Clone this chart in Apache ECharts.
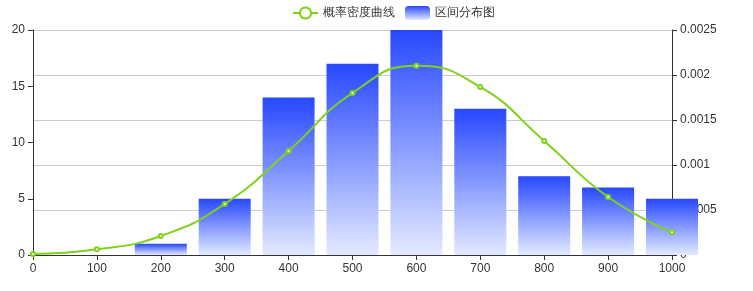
<!DOCTYPE html>
<html>
<head>
<meta charset="utf-8">
<script src="https://cdn.jsdelivr.net/npm/echarts@6/dist/echarts.min.js"></script>
<style>html,body{margin:0;padding:0;background:#fff}#c{width:753px;height:291px}</style>
</head>
<body>
<div id="c"></div>
<script>
const categories = ['0','100','200','300','400','500','600','700','800','900','1000'];
const barValues = [null, null, 1, 5, 14, 17, 20, 13, 7, 6, 5];
const densityValues = [0.00001, 0.000063, 0.000211, 0.000567, 0.001156, 0.0018, 0.002103, 0.001867, 0.001267, 0.000644, 0.000252];
const leftTicks = [0, 20, 5];
const rightTicks = [0, 0.0025, 0.0005];

const chart = echarts.init(document.getElementById('c'));
const axisLine = { show: true, lineStyle: { color: '#333' } };
chart.setOption({
  animation: false,
  legend: {
    top: 1,
    left: 287,
    itemGap: 10,
    textStyle: { color: '#333', fontSize: 12 },
    data: ['概率密度曲线', '区间分布图']
  },
  grid: { left: 33, right: 81, top: 30, bottom: 36 },
  xAxis: {
    type: 'category',
    data: categories,
    boundaryGap: false,
    axisLine: axisLine,
    axisTick: { show: true, alignWithLabel: true },
    axisLabel: { color: '#333', fontSize: 12 }
  },
  yAxis: [
    {
      type: 'value', min: leftTicks[0], max: leftTicks[1], interval: leftTicks[2],
      axisLine: axisLine, axisTick: { show: true },
      splitLine: { show: false },
      axisLabel: { color: '#333', fontSize: 12 }
    },
    {
      type: 'value', min: rightTicks[0], max: rightTicks[1], interval: rightTicks[2],
      position: 'right',
      axisLine: axisLine, axisTick: { show: true },
      splitLine: { show: true, lineStyle: { color: '#ccc' } },
      axisLabel: { color: '#333', fontSize: 12 }
    }
  ],
  series: [
    {
      name: '区间分布图',
      type: 'bar',
      yAxisIndex: 0,
      barWidth: 52,
      data: barValues,
      itemStyle: {
        color: new echarts.graphic.LinearGradient(0, 0, 0, 1, [
          { offset: 0, color: '#2748ff' },
          { offset: 1, color: '#e3eaff' }
        ])
      }
    },
    {
      name: '概率密度曲线',
      type: 'line',
      yAxisIndex: 1,
      smooth: true,
      symbol: 'emptyCircle',
      symbolSize: 4,
      data: densityValues,
      lineStyle: { color: '#7ed31a', width: 2 },
      itemStyle: { color: '#7ed31a' }
    }
  ]
});
</script>
</body>
</html>
